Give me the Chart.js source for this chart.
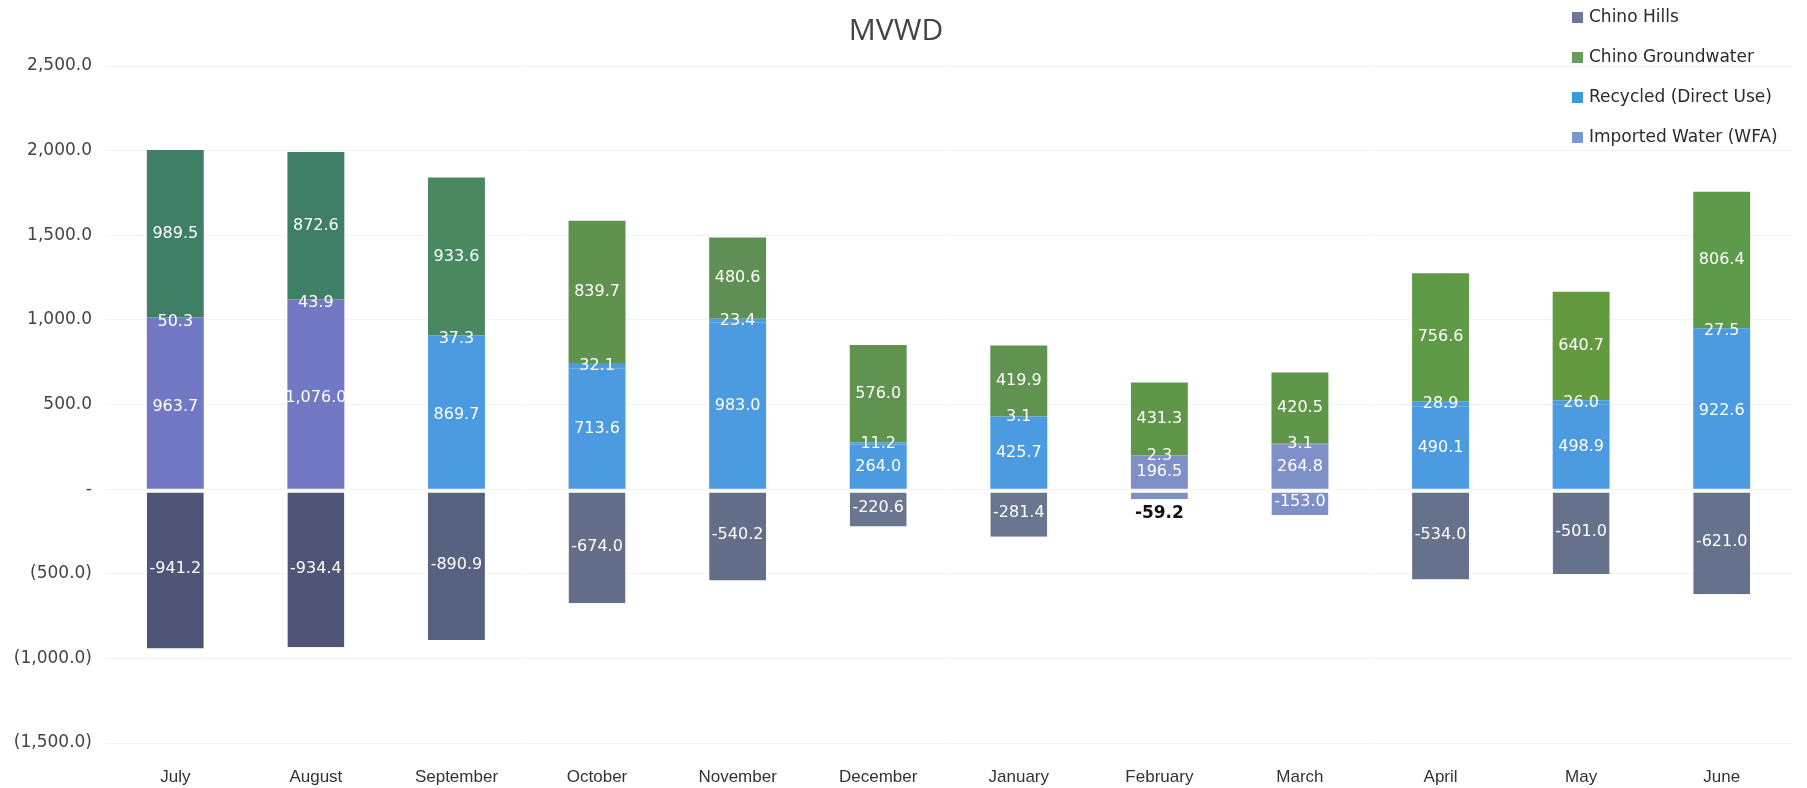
<!DOCTYPE html>
<html>
<head>
<meta charset="utf-8">
<script src="https://cdn.jsdelivr.net/npm/chart.js@4"></script>
<style>
  html, body { margin: 0; padding: 0; background: #fff; }
  #wrap { position: relative; width: 1807px; height: 788px; }
  #legend { position: absolute; left: 1572px; top: 4px; font-family: 'DejaVu Sans', sans-serif; font-size: 17px; color: #2a2a2a; }
  #legend div { height: 40px; line-height: 24px; white-space: nowrap; }
  #legend span.box { display: inline-block; width: 11px; height: 11px; margin-right: 6px; vertical-align: -1px; }
</style>
</head>
<body>
<div id="wrap">
  <canvas id="chart" width="1807" height="788"></canvas>
  <div id="legend"></div>
</div>
<script>
const months = ['July', 'August', 'September', 'October', 'November', 'December', 'January', 'February', 'March', 'April', 'May', 'June'];
const importedWater = [963.7, 1076.0, 869.7, 713.6, 983.0, 264.0, 425.7, 196.5, 264.8, 490.1, 498.9, 922.6];
const recycled = [50.3, 43.9, 37.3, 32.1, 23.4, 11.2, 3.1, 2.3, 3.1, 28.9, 26.0, 27.5];
const groundwater = [989.5, 872.6, 933.6, 839.7, 480.6, 576.0, 419.9, 431.3, 420.5, 756.6, 640.7, 806.4];
const chinoHills = [-941.2, -934.4, -890.9, -674.0, -540.2, -220.6, -281.4, -59.2, -153.0, -534.0, -501.0, -621.0];
const yTicks = [-1500, -1000, -500, 0, 500, 1000, 1500, 2000, 2500];

// colours per bar, the scanned original shades vary month to month
const importedColors = ['#7378c4', '#7378c4', '#4c9be0', '#4c9be0', '#4c9be0', '#4c9be0', '#4c9be0', '#7f8fc8', '#7f8fc8', '#4c9be0', '#4c9be0', '#4c9be0'];
const recycledColors = ['#7378c4', '#7378c4', '#4c9be0', '#4c9be0', '#4c9be0', '#4c9be0', '#4c9be0', '#4c9be0', '#7f8fc8', '#4c9be0', '#4c9be0', '#4c9be0'];
const groundColors = ['#3e7f66', '#3e7f66', '#4a8860', '#5f914f', '#5f8f55', '#5f934f', '#5f934f', '#5f964a', '#5f964a', '#5f9a46', '#639a40', '#5e9a4c'];
const hillsColors = ['#4f5577', '#4f5577', '#56627f', '#646e88', '#646e88', '#6a7590', '#6a7590', '#7f8fc8', '#7f8fc8', '#66728c', '#66728c', '#66728c'];

const fmt = (v) => v.toLocaleString('en-US', { minimumFractionDigits: 1, maximumFractionDigits: 1 });

const barLabels = {
  id: 'barLabels',
  afterDatasetsDraw(chart) {
    const ctx = chart.ctx;
    ctx.save();
    ctx.textAlign = 'center';
    ctx.textBaseline = 'middle';
    chart.data.datasets.forEach((ds, i) => {
      chart.getDatasetMeta(i).data.forEach((bar, j) => {
        const v = ds.data[j];
        const h = Math.abs(bar.base - bar.y);
        if (ds.label === 'Chino Hills' && h < 20) {
          ctx.font = 'bold 17px "DejaVu Sans"';
          ctx.fillStyle = '#111';
          ctx.fillText(fmt(v), bar.x, bar.y + 14);
          return;
        }
        ctx.font = '16px "DejaVu Sans"';
        ctx.fillStyle = '#ffffff';
        ctx.fillText(fmt(v), bar.x, (bar.y + bar.base) / 2);
      });
    });
    ctx.restore();
  }
};

const commonBar = { barPercentage: 0.405, categoryPercentage: 1, stack: 's' };

const chart = new Chart(document.getElementById('chart'), {
  type: 'bar',
  data: {
    labels: months,
    datasets: [
      { ...commonBar, label: 'Imported Water (WFA)', data: importedWater, backgroundColor: importedColors, legendColor: '#7b95d0' },
      { ...commonBar, label: 'Recycled (Direct Use)', data: recycled, backgroundColor: recycledColors, legendColor: '#3a9ad9' },
      { ...commonBar, label: 'Chino Groundwater', data: groundwater, backgroundColor: groundColors, legendColor: '#6a9a5c' },
      { ...commonBar, label: 'Chino Hills', data: chinoHills, backgroundColor: hillsColors, legendColor: '#6b7898',
        borderSkipped: false, borderColor: '#ffffff', borderWidth: { top: 3, left: 0, right: 0, bottom: 0 } }
    ]
  },
  options: {
    responsive: false,
    animation: false,
    layout: { padding: { left: 0, right: 15, top: 0, bottom: 0 } },
    plugins: {
      legend: { display: false },
      tooltip: { enabled: false },
      title: {
        display: true, text: 'MVWD', color: '#444',
        font: { family: 'Open Sans', size: 30, weight: 'normal' },
        padding: { top: 13, bottom: 17 }
      }
    },
    scales: {
      x: {
        stacked: true,
        grid: { display: false },
        border: { display: false },
        ticks: { color: '#333', font: { family: 'Liberation Sans', size: 17 }, padding: 16 },
        afterFit(s) { s.height = 45; }
      },
      y: {
        stacked: true,
        min: -1500, max: 2500,
        afterBuildTicks(s) { s.ticks = yTicks.map((value) => ({ value })); },
        grid: { color: '#f3f3f3', drawTicks: false },
        border: { display: false },
        ticks: {
          color: '#444', padding: 13,
          font: { family: 'DejaVu Sans', size: 17 },
          callback(v) {
            if (v === 0) return '-';
            return v < 0 ? '(' + fmt(-v) + ')' : fmt(v);
          }
        },
        afterFit(s) { s.width = 105; }
      }
    }
  },
  plugins: [barLabels]
});

const legendOrder = ['Chino Hills', 'Chino Groundwater', 'Recycled (Direct Use)', 'Imported Water (WFA)'];
const legendBox = document.getElementById('legend');
legendOrder.forEach((name) => {
  const ds = chart.data.datasets.find((d) => d.label === name);
  const row = document.createElement('div');
  const box = document.createElement('span');
  box.className = 'box';
  box.style.background = ds.legendColor;
  row.appendChild(box);
  row.appendChild(document.createTextNode(name));
  legendBox.appendChild(row);
});
</script>
</body>
</html>
